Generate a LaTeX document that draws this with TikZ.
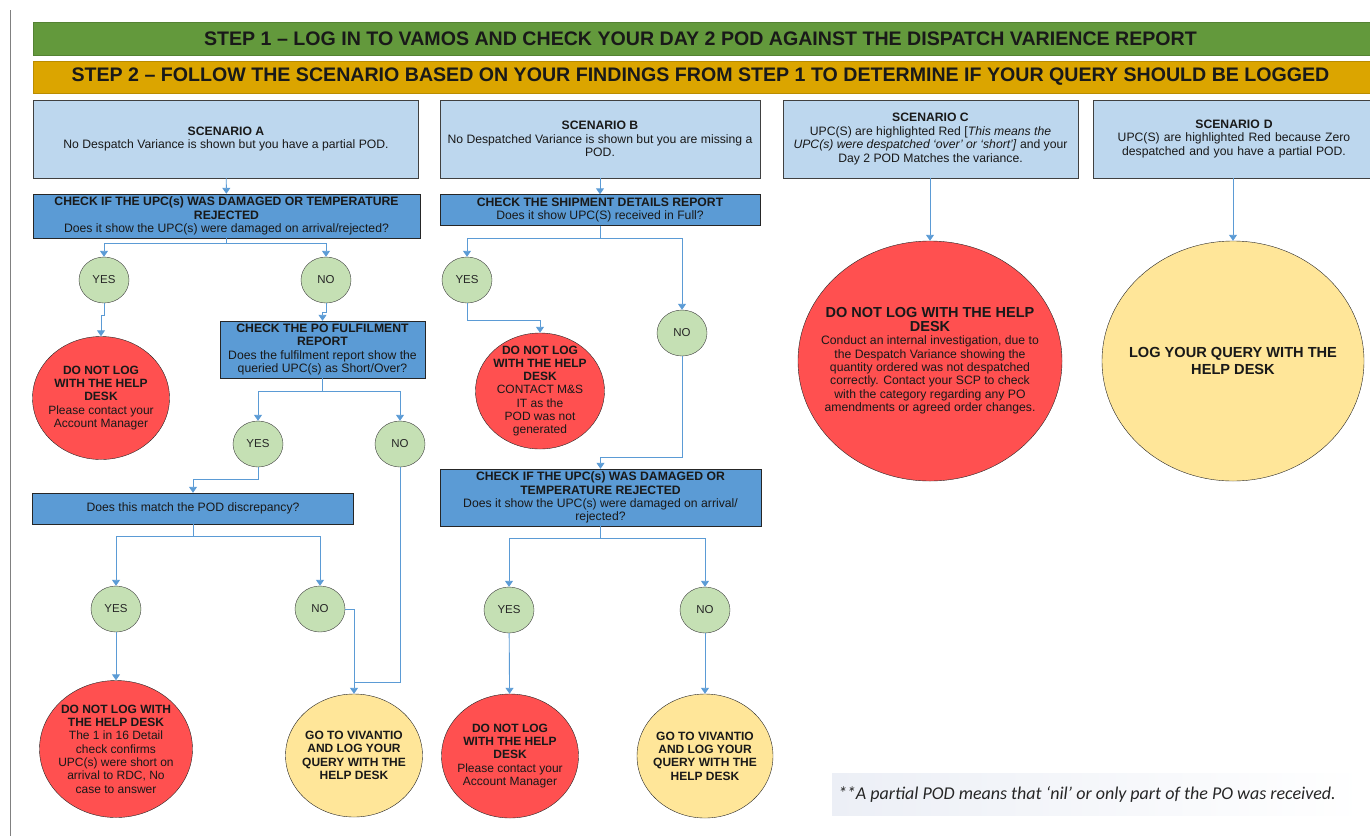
\documentclass[tikz,border=0pt]{standalone}
\usepackage{fontspec}
\setmainfont{Liberation Sans}
\newfontfamily\notefont{Carlito}
\usepackage{xcolor}
\usetikzlibrary{shapes,arrows,arrows.meta,positioning,calc}

\definecolor{stepgreen}{HTML}{63993C}
\definecolor{steporange}{HTML}{DBA500}
\definecolor{scnblue}{HTML}{BDD7EE}
\definecolor{chkblue}{HTML}{5B9BD5}
\definecolor{ansgreen}{HTML}{C5E0B4}
\definecolor{stopred}{HTML}{FF5050}
\definecolor{logyellow}{HTML}{FFE699}
\definecolor{linkblue}{HTML}{5B9BD5}
\definecolor{notegray}{HTML}{ECEFF6}

\newcommand{\bigtitle}[1]{{\fontsize{14.5}{15}\selectfont\bfseries #1}}

\begin{document}
\begin{tikzpicture}[x=1pt, y=-1pt,
    banner/.style={rectangle, draw=#1!85!black, fill=#1, minimum width=1342pt, minimum height=33pt, inner sep=0pt, font=\fontsize{19.6}{21}\selectfont\bfseries, text=black!90},
    scenario/.style={rectangle, draw=black!75, fill=scnblue, minimum height=78pt, inner sep=0pt, align=center, font=\fontsize{12.2}{13.6}\selectfont, text=black!90},
    check/.style={rectangle, draw=black!85, fill=chkblue, inner sep=0pt, align=center, font=\fontsize{12.2}{13.3}\selectfont, text=black!90},
    answer/.style={ellipse, draw=black!75, fill=ansgreen, minimum width=50pt, minimum height=46pt, inner sep=0pt, font=\fontsize{11.5}{13}\selectfont, text=black!85},
    stop/.style={ellipse, draw=black!85, fill=stopred, inner sep=-20pt, align=center, font=\fontsize{12}{13.3}\selectfont, text=black!90},
    logit/.style={ellipse, draw=black!85, fill=logyellow, inner sep=-20pt, align=center, font=\fontsize{12}{13.4}\selectfont\bfseries, text=black!90},
    link/.style={-{Triangle[length=6pt, width=8pt]}, draw=linkblue, line width=0.9pt}
]
\useasboundingbox (0,0) rectangle (1370,836);

% page margin line
\draw[gray, line width=0.8pt] (10,10) -- (10,836);

% Steps
\node[banner=stepgreen] (step1) at (704,38.5) {\hspace*{-7pt}STEP 1 -- LOG IN TO VAMOS AND CHECK YOUR DAY 2 POD AGAINST THE DISPATCH VARIENCE REPORT};
\node[banner=steporange, minimum height=32pt] (step2) at (704,77) {\hspace*{-7pt}STEP 2 -- FOLLOW THE SCENARIO BASED ON YOUR FINDINGS FROM STEP 1 TO DETERMINE IF YOUR QUERY SHOULD BE LOGGED};

% Scenarios
\node[scenario, minimum width=385pt] (scnA) at (226,139) {\textbf{SCENARIO A}\\No Despatch Variance is shown but you have a partial POD.};
\node[scenario, minimum width=320pt] (scnB) at (600,139) {\textbf{SCENARIO B}\\No Despatched Variance is shown but you are missing a\\POD.};
\node[scenario, minimum width=295pt] (scnC) at (930.5,139) {\textbf{SCENARIO C}\\UPC(S) are highlighted Red [\textit{This means the}\\\textit{UPC(s) were despatched ‘over’ or ‘short’]} and your\\Day 2 POD Matches the variance.};
\node[scenario, minimum width=282pt, text width=270pt] (scnD) at (1234,139) {\textbf{SCENARIO D}\\UPC(S) are highlighted Red because Zero\\despatched and you have a partial POD.};

% Scenario A
\node[check, minimum width=387pt, minimum height=44pt] (chkA) at (226.5,216) {\textbf{CHECK IF THE UPC(s) WAS DAMAGED OR TEMPERATURE}\\\textbf{REJECTED}\\Does it show the UPC(s) were damaged on arrival/rejected?};
\node[answer] (yesA) at (104,280) {YES};
\node[answer] (noA) at (326,280) {NO};
\node[stop, minimum width=137pt, minimum height=123pt] (redA) at (101,398) {\textbf{DO NOT LOG}\\\textbf{WITH THE HELP}\\\textbf{DESK}\\Please contact your\\Account Manager};
\node[check, minimum width=205pt, minimum height=57pt] (fulfil) at (322.5,349.5) {\textbf{CHECK THE PO FULFILMENT}\\\textbf{REPORT}\\Does the fulfilment report show the\\queried UPC(s) as Short/Over?};
\node[answer] (yesF) at (258,444) {YES};
\node[answer] (noF) at (400,444) {NO};
\node[check, minimum width=321pt, minimum height=31pt] (match) at (193,508.5) {Does this match the POD discrepancy?};
\node[answer] (yesM) at (116,609) {YES};
\node[answer] (noM) at (320,609) {NO};
\node[stop, minimum width=153pt, minimum height=137pt] (redM) at (116,749) {\textbf{DO NOT LOG WITH}\\\textbf{THE HELP DESK}\\The 1 in 16 Detail\\check confirms\\UPC(s) were short on\\arrival to RDC, No\\case to answer};
\node[logit, minimum width=137pt, minimum height=123pt] (yelM) at (354,755.5) {GO TO VIVANTIO\\AND LOG YOUR\\QUERY WITH THE\\HELP DESK};
\coordinate (mergeM) at (354,682);

% Scenario B
\node[check, minimum width=320pt, minimum height=31pt] (chkB) at (600,210) {\textbf{CHECK THE SHIPMENT DETAILS REPORT}\\Does it show UPC(S) received in Full?};
\node[answer] (yesB) at (467,280) {YES};
\node[answer] (noB) at (682,333) {NO};
\node[stop, minimum width=129pt, minimum height=116pt] (redB) at (540,391) {\textbf{DO NOT LOG}\\\textbf{WITH THE HELP}\\\textbf{DESK}\\CONTACT M\&S\\IT as the\\POD was not\\generated};
\node[check, minimum width=321pt, minimum height=57pt] (chkB2) at (600.5,497.5) {\textbf{CHECK IF THE UPC(s) WAS DAMAGED OR}\\\textbf{TEMPERATURE REJECTED}\\Does it show the UPC(s) were damaged on arrival/\\rejected?};
\node[answer] (yesB2) at (509,610) {YES};
\node[answer] (noB2) at (705,610) {NO};
\node[stop, minimum width=137pt, minimum height=124pt] (redB2) at (510,756) {\textbf{DO NOT LOG}\\\textbf{WITH THE HELP}\\\textbf{DESK}\\Please contact your\\Account Manager};
\node[logit, minimum width=136pt, minimum height=124pt] (yelB2) at (705,756) {GO TO VIVANTIO\\AND LOG YOUR\\QUERY WITH THE\\HELP DESK};

% Scenario C and D
\node[stop, inner sep=-30pt, minimum width=264pt, minimum height=240pt, font=\fontsize{12.2}{13.4}\selectfont] (redC) at (930,361) {\bigtitle{DO NOT LOG WITH THE HELP}\\\bigtitle{DESK}\\Conduct an internal investigation, due to\\the Despatch Variance showing the\\quantity ordered was not despatched\\correctly. Contact your SCP to check\\with the category regarding any PO\\amendments or agreed order changes.};
\node[logit, inner sep=-30pt, minimum width=262pt, minimum height=240pt, font=\fontsize{14.6}{16.5}\selectfont\bfseries] (yelD) at (1233,361) {LOG YOUR QUERY WITH THE\\HELP DESK};

% Note
\node[rectangle, left color=notegray, right color=white, minimum width=533pt, minimum height=42pt, inner sep=0pt] (note) at (1098.5,794) {};
\node[anchor=west, inner xsep=6pt, font=\notefont\fontsize{18}{20}\selectfont\itshape, text=black!85] (notetext) at (note.west) {**A partial POD means that ‘nil’ or only part of the PO was received.};

% Links
\draw[link] (scnA) -- (chkA);
\draw[link] (chkA.south) -- ++(0,5) -| (yesA.north);
\draw[link] (chkA.south) -- ++(0,5) -| (noA.north);
\draw[link] (yesA.south) -- ++(0,12) -| (redA.north);
\draw[link] (noA.south) -- ++(0,9) -| (fulfil.north);
\draw[link] (fulfil.south) -- ++(0,13) -| (yesF.north);
\draw[link] (fulfil.south) -- ++(0,13) -| (noF.north);
\draw[link] (yesF.south) -- ++(0,12) -| (match.north);
\draw[link, -] (noF.south) |- (mergeM);
\draw[link] (match.south) -- ++(0,12) -| (yesM.north);
\draw[link] (match.south) -- ++(0,12) -| (noM.north);
\draw[link] (yesM) -- (redM);
\draw[link] (noM.east) -| (yelM.north);

\draw[link] (scnB) -- (chkB);
\draw[link] (chkB.south) -- ++(0,13) -| (yesB.north);
\draw[link] (chkB.south) -- ++(0,13) -| (noB.north);
\draw[link] (yesB.south) -- ++(0,17) -| (redB.north);
\draw[link] (noB.south) |- ([yshift=11pt]chkB2.north) -- (chkB2.north);
\draw[link] (chkB2.south) -- ++(0,12) -| (yesB2.north);
\draw[link] (chkB2.south) -- ++(0,12) -| (noB2.north);
\draw[link] (yesB2) -- (redB2);
\draw[link] (noB2) -- (yelB2);

\draw[link] (scnC.south -| redC.north) -- (redC.north);
\draw[link] (scnD.south -| yelD.north) -- (yelD.north);
\end{tikzpicture}
\end{document}
